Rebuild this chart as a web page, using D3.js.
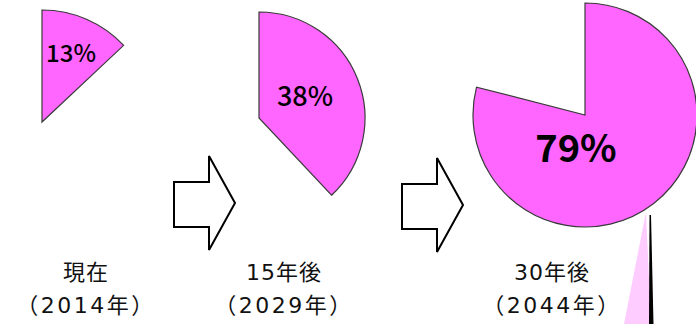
<!DOCTYPE html>
<html>
<head>
<meta charset="utf-8">
<script src="https://cdn.jsdelivr.net/npm/d3@7"></script>
<style>
  html, body { margin: 0; padding: 0; background: #fff; overflow: hidden; }
  svg { display: block; }
  text { font-family: "Noto Sans CJK JP", "Noto Sans", sans-serif; }
  text.period { font-family: "DejaVu Sans", "Noto Sans CJK JP", sans-serif; }
</style>
</head>
<body>
<div id="chart"></div>
<script>
// data
var periods = ["現在", "15年後", "30年後"];
var yearLabels = ["（2014年）", "（2029年）", "（2044年）"];
var shares = [13, 38, 79];
var shareLabels = ["13%", "38%", "79%"];

// layout (per pie)
var centers = [[42, 122], [259, 118], [585, 115]];
var radii = [112, 106, 112];
var labelPos = [[71, 62], [305, 106], [576, 162]];
var labelSize = [24, 27, 38];
var labelWeight = [500, 500, 700];
var textX = [86, 284, 552];

var width = 696, height = 324;

var svg = d3.select("#chart")
  .append("svg")
    .attr("width", width)
    .attr("height", height);

var angle = d3.scaleLinear().domain([0, 100]).range([0, 2 * Math.PI]);

// callout behind the big pie
svg.append("polygon")
  .attr("points", "646,212 651,324 624,324")
  .attr("fill", "#ffccff");
svg.append("polygon")
  .attr("points", "649.5,215 651,215 653.5,324 649,324")
  .attr("fill", "#000");

// pies
shares.forEach(function(v, i) {
  var arc = d3.arc()
    .innerRadius(0)
    .outerRadius(radii[i])
    .startAngle(0)
    .endAngle(angle(v));
  svg.append("path")
    .attr("transform", "translate(" + centers[i][0] + "," + centers[i][1] + ")")
    .attr("d", arc())
    .attr("fill", "#ff66ff")
    .attr("stroke", "#3a3a3a")
    .attr("stroke-width", 1.2)
    .attr("stroke-linejoin", "miter");

  svg.append("text")
    .attr("x", labelPos[i][0])
    .attr("y", labelPos[i][1])
    .attr("text-anchor", "middle")
    .attr("font-size", labelSize[i])
    .attr("font-weight", labelWeight[i])
    .attr("fill", "#000")
    .text(shareLabels[i]);
});

// block arrows between pies
var arrows = [[174, 156], [402, 158]];
arrows.forEach(function(a) {
  var x = a[0], y = a[1];
  var pts = [
    [x, y + 26], [x + 35, y + 26], [x + 35, y], [x + 61, y + 47],
    [x + 35, y + 94], [x + 35, y + 71], [x, y + 71]
  ];
  svg.append("polygon")
    .attr("points", pts.map(function(p) { return p.join(","); }).join(" "))
    .attr("fill", "#fff")
    .attr("stroke", "#000")
    .attr("stroke-width", 2);
});

// period labels
periods.forEach(function(p, i) {
  svg.append("text")
    .attr("class", "period")
    .attr("x", textX[i])
    .attr("y", 280)
    .attr("text-anchor", "middle")
    .attr("font-size", 22)
    .attr("letter-spacing", 1)
    .attr("fill", "#111")
    .text(p);
  svg.append("text")
    .attr("class", "period")
    .attr("x", textX[i])
    .attr("y", 313)
    .attr("text-anchor", "middle")
    .attr("font-size", 22)
    .attr("letter-spacing", 2.5)
    .attr("fill", "#111")
    .text(yearLabels[i]);
});
</script>
</body>
</html>
